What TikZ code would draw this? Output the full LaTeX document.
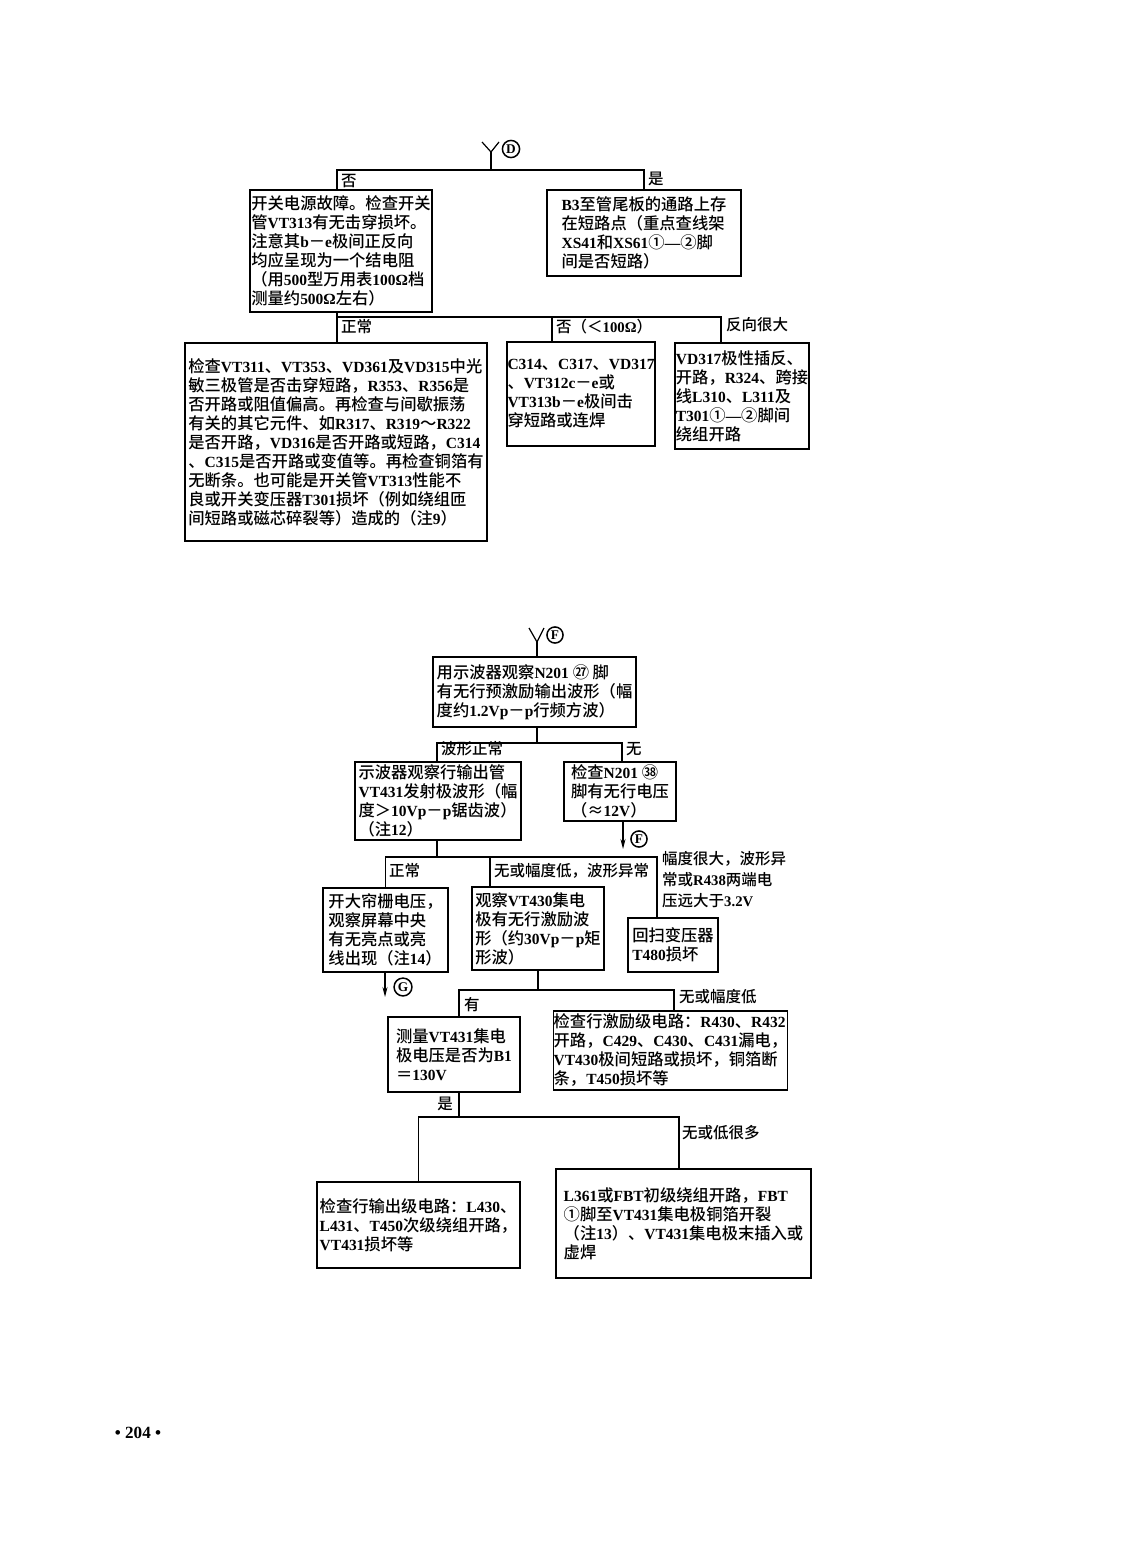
\documentclass[tikz,border=0pt]{standalone}
\usepackage{fontspec}
\setmainfont{Noto Sans CJK SC}[UprightFont=* Medium]
\newfontfamily\cjkfont{Noto Sans CJK SC}[UprightFont=* Medium]
\newfontfamily\latinfont{Liberation Serif}[UprightFont=* Bold,Scale=0.95]
% Latin runs in serif, Chinese runs in Noto
\XeTeXinterchartokenstate=1
\newXeTeXintercharclass\cjkclass
\newcount\cjkc
\def\cjkrange#1#2{\cjkc=#1 \loop\ifnum\cjkc<#2 \XeTeXcharclass\cjkc=\cjkclass \advance\cjkc 1 \repeat}
\cjkrange{"2200}{"2300}
\cjkrange{"2460}{"2500}
\cjkrange{"3000}{"3040}
\cjkrange{"3200}{"3300}
\cjkrange{"4E00}{"A000}
\cjkrange{"FF00}{"FFF0}
\XeTeXinterchartoks 0 \cjkclass = {\cjkfont}
\XeTeXinterchartoks 4095 \cjkclass = {\cjkfont}
\XeTeXinterchartoks \cjkclass 0 = {\latinfont}
\XeTeXinterchartoks 4095 0 = {\latinfont}
\usetikzlibrary{arrows.meta}
\begin{document}
\begin{tikzpicture}[x=1pt,y=-1pt,box/.style={draw,line width=1.4pt,inner sep=0pt,align=left,font=\fontsize{16.3}{19}\selectfont},sz/.style 2 args={minimum width=#1,minimum height=#2},lbl/.style={inner sep=0pt,font=\fontsize{15.5}{21}\selectfont},circ/.style={circle,draw,line width=1.5pt,inner sep=1.5pt,font=\fontsize{14}{14}\selectfont},wire/.style={line width=1.2pt},arr/.style={wire,-{Stealth[length=10pt,width=5pt]}}]
\useasboundingbox (0,0) rectangle (1122,1568);

% upper chart
\coordinate (yD) at (491,152);
\draw[wire] (482,142) -- (yD) -- (499,142);
\node[circ] (cD) at (511,149) {D};

\node[box,sz={182}{122}] (A) at (341,251) {开关电源故障。检查开关\\管VT313有无击穿损坏。\\注意其b－e极间正反向\\均应呈现为一个结电阻\\（用500型万用表100Ω档\\测量约500Ω左右）};
\node[box,sz={194}{86}] (B) at (644,233) {B3至管尾板的通路上存\\在短路点（重点查线架\\XS41和XS61①—②脚\\间是否短路）};
\coordinate (s1) at (491,170);
\draw[wire] (yD) -- (s1);
\draw[wire] ([xshift=-4]A.north) |- (s1) -| (B.north);
\node[lbl,anchor=west] (l1) at (341,181) {否};
\node[lbl,anchor=west] (l2) at (648,179) {是};

\node[box,sz={302}{198}] (C) at (336,442) {检查VT311、VT353、VD361及VD315中光\\敏三极管是否击穿短路，R353、R356是\\否开路或阻值偏高。再检查与间歇振荡\\有关的其它元件、如R317、R319～R322\\是否开路，VD316是否开路或短路，C314\\、C315是否开路或变值等。再检查铜箔有\\无断条。也可能是开关管VT313性能不\\良或开关变压器T301损坏（例如绕组匝\\间短路或磁芯碎裂等）造成的（注9）};
\node[box,sz={148}{104}] (D) at (581,394) {C314、C317、VD317\\、VT312c－e或\\VT313b－e极间击\\穿短路或连焊};
\node[box,sz={134}{106}] (E) at (742,396) {VD317极性插反、\\开路，R324、跨接\\线L310、L311及\\T301①—②脚间\\绕组开路};
\coordinate (s2) at (337,317);
\coordinate (s2a) at (552,317);
\coordinate (s2b) at (721,317);
\draw[wire] (A.south -| s2) -- (C.north -| s2);
\draw[wire] (s2) -- (s2b) -- (s2b |- E.north);
\draw[wire] (s2a) -- (s2a |- D.north);
\node[lbl,anchor=west] (l3) at (341,327) {正常};
\node[lbl,anchor=west] (l4) at (556,327) {否（＜100Ω）};
\node[lbl,anchor=west] (l5) at (726,325) {反向很大};

% lower chart
\coordinate (yF) at (537,642);
\draw[wire] (529,628) -- (yF) -- (544,628);
\node[circ] (cF) at (555,635) {F};

\node[box,sz={203}{70}] (F) at (534.5,692) {用示波器观察N201 ㉗ 脚\\有无行预激励输出波形（幅\\度约1.2Vp－p行频方波）};
\draw[wire] (yF) -- (yF |- F.north);

\node[box,sz={166}{78}] (H) at (438,801) {示波器观察行输出管\\VT431发射极波形（幅\\度＞10Vp－p锯齿波）\\（注12）};
\node[box,sz={112}{59}] (G) at (620,791.5) {检查N201 ㊳\\脚有无行电压\\（≈12V）};
\coordinate (s3) at (537,743);
\draw[wire] (F.south -| s3) -- (s3);
\draw[wire] ([xshift=-1]H.north) |- (s3) -| ([xshift=2]G.north);
\node[lbl,anchor=west] (l6) at (441,749) {波形正常};
\node[lbl,anchor=west] (l7) at (626,749) {无};
\coordinate (aF) at (623,849);
\draw[arr] (G.south -| aF) -- (aF);
\node[circ] (cF2) at (639,839) {F};

\node[box,sz={125}{84}] (I) at (385.5,930) {开大帘栅电压，\\观察屏幕中央\\有无亮点或亮\\线出现（注14）};
\node[box,sz={132}{83}] (J) at (538,928.5) {观察VT430集电\\极有无行激励波\\形（约30Vp－p矩\\形波）};
\node[box,sz={90}{54}] (K) at (673,945) {回扫变压器\\T480损坏};
\coordinate (s4) at (437,857);
\coordinate (s4a) at (490,857);
\draw[wire] (H.south -| s4) -- (s4);
\draw[wire] (I.north) |- (s4) -| ([xshift=-16]K.north);
\draw[wire] (s4a) -- (s4a |- J.north);
\node[lbl,anchor=west] (l8) at (389,871) {正常};
\node[lbl,anchor=west] (l9) at (494,871) {无或幅度低，波形异常};
\node[lbl,anchor=north west,align=left] (l10) at (662,851) {幅度很大，波形异\\常或R438两端电\\压远大于3.2V};
\coordinate (aG) at (385,997);
\draw[arr] (I.south -| aG) -- (aG);
\node[circ] (cG) at (403,987) {G};

\node[box,sz={132}{75}] (L) at (454,1054.5) {测量VT431集电\\极电压是否为B1\\＝130V};
\node[box,sz={229}{79}] (M) at (670.5,1050.5) {检查行激励级电路：R430、R432\\开路，C429、C430、C431漏电，\\VT430极间短路或损坏，铜箔断\\条，T450损坏等};
\coordinate (s5) at (538,990);
\draw[wire] (J.south -| s5) -- (s5);
\draw[wire] ([xshift=5]L.north) |- (s5) -| ([xshift=3.5]M.north);
\node[lbl,anchor=west] (l11) at (464,1005) {有};
\node[lbl,anchor=west] (l12) at (679,997) {无或幅度低};

\node[box,sz={203}{86}] (N) at (418.5,1225) {检查行输出级电路：L430、\\L431、T450次级绕组开路，\\VT431损坏等};
\node[box,sz={255}{109}] (O) at (683.5,1223.5) {L361或FBT初级绕组开路，FBT\\①脚至VT431集电极铜箔开裂\\（注13）、VT431集电极末插入或\\虚焊};
\coordinate (s6) at (459,1117);
\draw[wire] ([xshift=5]L.south) -- (s6);
\draw[wire] (N.north) |- (s6) -| ([xshift=-4.5]O.north);
\node[lbl,anchor=east] (l13) at (453,1104) {是};
\node[lbl,anchor=west] (l14) at (682,1133) {无或低很多};

\node[font=\fontsize{18}{18}\selectfont] (pg) at (138,1433) {• 204 •};
\end{tikzpicture}
\end{document}
